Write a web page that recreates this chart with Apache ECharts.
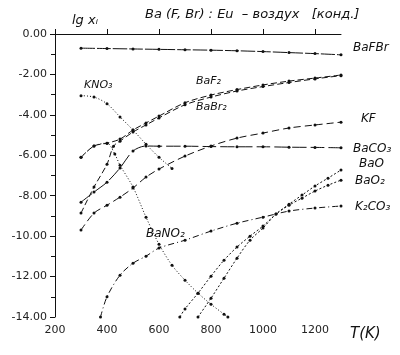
<!DOCTYPE html>
<html><head><meta charset="utf-8">
<script src="https://cdn.jsdelivr.net/npm/echarts@6/dist/echarts.min.js"></script>
<style>html,body{margin:0;padding:0;background:#fff}#c{width:400px;height:355px}</style>
</head><body><div id="c"></div>
<script>
// Temperature (K) and lg x_i values
const tBaFBr = [300,400,500,600,700,800,900,1000,1100,1200,1300];
const vBaFBr = [-0.70,-0.72,-0.74,-0.76,-0.78,-0.80,-0.83,-0.87,-0.92,-0.97,-1.03];

const tBaF2 = [300,350,400,450,500,550,600,700,800,900,1000,1100,1200,1300];
const vBaF2 = [-6.10,-5.54,-5.40,-5.20,-4.75,-4.40,-4.06,-3.40,-3.02,-2.75,-2.52,-2.33,-2.18,-2.03];

const tBaBr2 = [300,350,400,425,450,500,550,600,700,800,900,1000,1100,1200,1300];
const vBaBr2 = [-8.86,-7.57,-6.44,-5.55,-5.30,-4.85,-4.50,-4.15,-3.50,-3.12,-2.82,-2.60,-2.40,-2.22,-2.06];

const tKF = [300,350,400,450,500,550,600,700,800,900,1000,1100,1200,1300];
const vKF = [-9.70,-8.86,-8.47,-8.07,-7.62,-7.08,-6.68,-6.04,-5.54,-5.15,-4.90,-4.65,-4.50,-4.36];

const tBaCO3 = [300,350,400,450,500,550,600,700,800,900,1000,1100,1200,1300];
const vBaCO3 = [-8.32,-7.82,-7.33,-6.63,-5.79,-5.54,-5.55,-5.55,-5.57,-5.58,-5.58,-5.60,-5.61,-5.63];

const tKNO3 = [300,350,400,450,500,550,600,650];
const vKNO3 = [-3.05,-3.12,-3.45,-4.10,-4.75,-5.45,-6.10,-6.65];

const tBaNO2 = [300,350,400,430,450,500,550,600,650,700,750,800,850,865];
const vBaNO2 = [-6.10,-5.54,-5.40,-5.94,-6.49,-7.57,-9.06,-10.40,-11.44,-12.18,-12.82,-13.37,-13.86,-14.00];

const tK2CO3 = [375,400,450,500,550,600,700,800,900,1000,1100,1200,1300];
const vK2CO3 = [-14.00,-13.00,-11.93,-11.34,-10.99,-10.59,-10.20,-9.75,-9.36,-9.06,-8.76,-8.61,-8.51];

const tBaO = [680,700,750,800,850,900,950,1000,1050,1100,1150,1200,1250,1300];
const vBaO = [-14.00,-13.60,-12.82,-11.98,-11.19,-10.54,-10.00,-9.50,-8.91,-8.42,-7.97,-7.52,-7.13,-6.73];

const tBaO2 = [750,800,850,900,950,1000,1050,1100,1150,1200,1250,1300];
const vBaO2 = [-14.00,-13.07,-12.08,-11.09,-10.20,-9.60,-8.91,-8.47,-8.12,-7.77,-7.48,-7.23];

const names = {
  BaFBr:'BaFBr', BaF2:'BaF₂', BaBr2:'BaBr₂', KF:'KF', BaCO3:'BaCO₃', KNO3:'KNO₃',
  BaNO2:'BaNO₂', K2CO3:'K₂CO₃', BaO:'BaO', BaO2:'BaO₂'
};

const pair = (t, v) => t.map((x, i) => [x, v[i]]);
const hand = {fontFamily:'DejaVu Sans', fontStyle:'italic', color:'#111', fontSize:12};

function mk(name, t, v, dash, endLbl, offs) {
  return {
    name, type:'line', data: pair(t, v), smooth: 0.3,
    symbol:'circle', symbolSize:3,
    itemStyle:{color:'#111'},
    lineStyle:{color:'#111', width:1, type: dash},
    animation:false, clip:true,
    endLabel: endLbl ? Object.assign({show:true, formatter: name, distance: 12, offset: offs || [0,0]}, hand) : {show:false}
  };
}

const chart = echarts.init(document.getElementById('c'), null, {renderer:'canvas'});
chart.setOption({
  animation:false,
  backgroundColor:'#fff',
  grid:{left:55, right:59, top:34, bottom:38},
  xAxis:{
    type:'value', min:200, max:1300, interval:200,
    axisLine:{show:true, lineStyle:{color:'#111'}},
    axisTick:{show:true, inside:true, length:5, lineStyle:{color:'#111'}},
    axisLabel:{color:'#222', fontSize:11, fontFamily:'DejaVu Sans', margin:8, showMaxLabel:false,
      formatter: v => String(v)},
    splitLine:{show:false}
  },
  yAxis:{
    type:'value', min:-14, max:0, interval:2,
    axisLine:{show:true, lineStyle:{color:'#111'}},
    axisTick:{show:true, length:5, lineStyle:{color:'#111'}},
    minorTick:{show:true, splitNumber:2, length:4, lineStyle:{color:'#111'}},
    axisLabel:{color:'#222', fontSize:11, fontFamily:'DejaVu Sans', margin:8,
      formatter: v => Number(v).toFixed(2)},
    splitLine:{show:false}
  },
  graphic:[
    {type:'text', left:145, top:8, style:{text:'Ba (F, Br) : Eu  – воздух   [конд.]', fill:'#111', font:'italic 13px DejaVu Sans'}},
    {type:'text', left:72, top:14, style:{text:'lg xᵢ', fill:'#111', font:'italic 13px DejaVu Sans'}},
    {type:'text', left:350, top:327, style:{text:'T(K)', fill:'#111', font:'italic 15px DejaVu Sans'}},
    {type:'text', left:84, top:80, style:{text:names.KNO3, fill:'#111', font:'italic 11px DejaVu Sans'}},
    {type:'text', left:196, top:76, style:{text:names.BaF2, fill:'#111', font:'italic 11px DejaVu Sans'}},
    {type:'text', left:196, top:102, style:{text:names.BaBr2, fill:'#111', font:'italic 11px DejaVu Sans'}},
    {type:'text', left:146, top:228, style:{text:names.BaNO2, fill:'#111', font:'italic 12px DejaVu Sans'}}
  ],
  series:[
    mk(names.BaFBr, tBaFBr, vBaFBr, [14,2], true, [0,-7]),
    mk(names.BaF2, tBaF2, vBaF2, [6,3], false),
    mk(names.BaBr2, tBaBr2, vBaBr2, [6,3], false),
    mk(names.KF, tKF, vKF, [7,4], true, [8,-3]),
    mk(names.BaCO3, tBaCO3, vBaCO3, [14,4], true, [0,1]),
    mk(names.KNO3, tKNO3, vKNO3, [1,2], false),
    mk(names.BaNO2, tBaNO2, vBaNO2, [1,2], false),
    mk(names.K2CO3, tK2CO3, vK2CO3, [6,3,1,3], true, [2,1]),
    mk(names.BaO, tBaO, vBaO, [2,2], true, [6,-6]),
    mk(names.BaO2, tBaO2, vBaO2, [2,2], true, [2,1])
  ]
});
</script></body></html>
